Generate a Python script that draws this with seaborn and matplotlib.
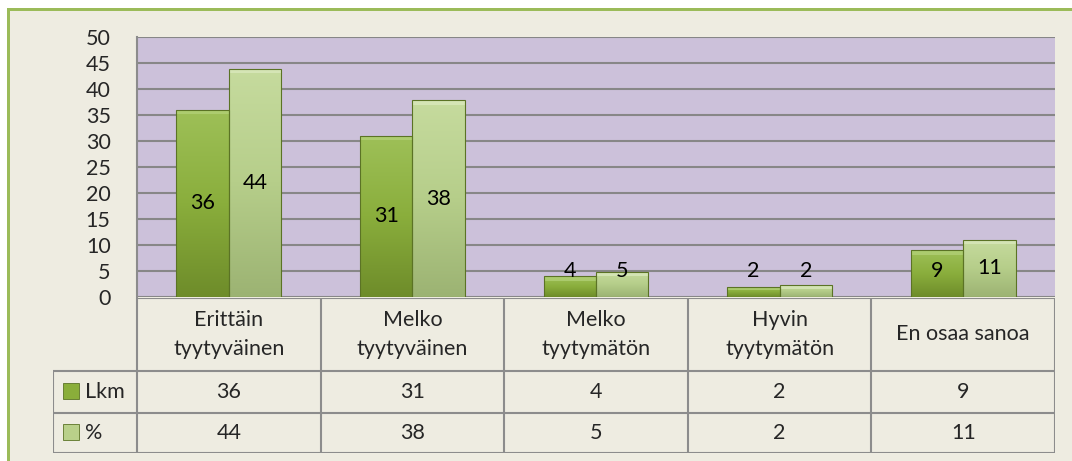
import matplotlib
matplotlib.use("Agg")
import matplotlib.pyplot as plt
from matplotlib.patches import Rectangle
from matplotlib.colors import LinearSegmentedColormap
import numpy as np
import pandas as pd
import seaborn as sns

# data
categories = ["Erittäin\ntyytyväinen", "Melko\ntyytyväinen", "Melko\ntyytymätön",
              "Hyvin\ntyytymätön", "En osaa sanoa"]
series = ["Lkm", "%"]
lkm = [36, 31, 4, 2, 9]
pct = [43.9, 37.8, 4.9, 2.4, 11.0]
yticks = [0, 5, 10, 15, 20, 25, 30, 35, 40, 45, 50]

df = pd.DataFrame({
    "category": categories * 2,
    "series": [series[0]] * len(lkm) + [series[1]] * len(pct),
    "value": lkm + pct,
})

sns.set_style("white")
plt.rcParams["font.family"] = ["Lato", "DejaVu Sans"]
FS = 15.5

W, H = 1072, 461
fig = plt.figure(figsize=(W / 100, H / 100), dpi=100)
fig.patch.set_facecolor("white")

def px(x0, y0, x1, y1):
    # pixel box -> figure fraction [left, bottom, width, height]
    return [x0 / W, 1 - y1 / H, (x1 - x0) / W, (y1 - y0) / H]

# chart area background + green frame
bg = px(7, 8, W, H)
fig.add_artist(Rectangle(bg[:2], bg[2], bg[3], transform=fig.transFigure,
                         facecolor="#EEECE1", edgecolor="none", zorder=0))
top = px(7, 8, W, 11)
fig.add_artist(Rectangle(top[:2], top[2], top[3], transform=fig.transFigure,
                         facecolor="#9BBB59", edgecolor="none", zorder=1))
left = px(7, 8, 10, H)
fig.add_artist(Rectangle(left[:2], left[2], left[3], transform=fig.transFigure,
                         facecolor="#9BBB59", edgecolor="none", zorder=1))

ax = fig.add_axes(px(137, 37, 1055, 297))
ax.set_facecolor("#CCC1DA")

colors = {"Lkm": "#8AAE3A", "%": "#B9D08A"}
sns.barplot(data=df, x="category", y="value", hue="series", order=categories,
            hue_order=series, palette=colors, width=0.57, gap=0, errorbar=None,
            legend=False, ax=ax, linewidth=0)

ramps = {
    "Lkm": LinearSegmentedColormap.from_list("lkm", ["#6E8C2A", "#8AAE3C", "#9EC058"]),
    "%": LinearSegmentedColormap.from_list("pct", ["#9CB373", "#B6CE8A", "#C6DB9E"]),
}
tops = {"Lkm": "#B4D27A", "%": "#DCEAC0"}
grad = np.linspace(0, 1, 128).reshape(-1, 1)
for name, cont in zip(series, ax.containers):
    for bar in cont:
        x0, y0 = bar.get_x(), bar.get_y()
        w, h = bar.get_width(), bar.get_height()
        im = ax.imshow(grad, extent=[x0, x0 + w, y0, y0 + h], origin="lower",
                       aspect="auto", cmap=ramps[name], zorder=3)
        im.set_clip_path(bar)
        # light bevel along the top of each bar
        bh = min(0.9, h * 0.35)
        ax.add_patch(Rectangle((x0, y0 + h - bh), w, bh, facecolor=tops[name],
                               edgecolor="none", alpha=0.7, zorder=3.5))
        ax.add_patch(Rectangle((x0, y0), w, h, fill=False, edgecolor="#5B7325",
                               linewidth=0.8, zorder=4))

for cont, vals in zip(ax.containers, [lkm, pct]):
    for bar, v in zip(cont, vals):
        ax.text(bar.get_x() + bar.get_width() / 2, max(v / 2, 5.0), f"{v:.0f}",
                ha="center", va="center", fontsize=FS, color="black", zorder=5)

ax.set_xlim(-0.5, len(categories) - 0.5)
ax.set_ylim(0, 50)
ax.set_yticks(yticks)
ax.set_yticklabels([str(t) for t in yticks], fontsize=FS)
ax.set_xticks([])
ax.set_xlabel("")
ax.set_ylabel("")
ax.set_axisbelow(True)
ax.yaxis.grid(True, color="#878787", linewidth=1.5)
ax.tick_params(axis="y", length=0, pad=19)
for s in ["top", "right", "bottom"]:
    ax.spines[s].set_visible(False)
ax.spines["left"].set_color("#8C8C8C")
ax.spines["left"].set_linewidth(1.5)

# data table under the plot
col_w = 918 / len(categories)
lab_w = (137 - 53) / col_w
tab = fig.add_axes(px(53, 298, 1055, 453))
tab.set_xlim(-0.5 - lab_w, len(categories) - 0.5)
tab.set_ylim(155, 0)
tab.axis("off")
tab.patch.set_alpha(0)

lc = dict(color="#8C8C8C", linewidth=1.5, solid_capstyle="butt")
xl, xr = -0.5 - lab_w, len(categories) - 0.5
tab.plot([-0.5, xr], [0, 0], **lc)
for yy in [73, 115, 155]:
    tab.plot([xl, xr], [yy, yy], **lc)
for i in range(len(categories) + 1):
    tab.plot([i - 0.5, i - 0.5], [0, 155], **lc)
tab.plot([xl, xl], [73, 155], **lc)

for i, c in enumerate(categories):
    tab.text(i, 36.5, c, ha="center", va="center", fontsize=FS, linespacing=1.6)
    tab.text(i, 94, str(lkm[i]), ha="center", va="center", fontsize=FS)
    tab.text(i, 135, f"{pct[i]:.0f}", ha="center", va="center", fontsize=FS)

key_x = -0.5 - 74 / col_w
key_w = 16 / col_w
for name, (y0, ytxt) in zip(series, [(85, 94), (126, 135)]):
    tab.add_patch(Rectangle((key_x, y0), key_w, 16, facecolor=colors[name],
                            edgecolor="#5B7325", linewidth=0.6))
    tab.text(key_x + key_w + 6 / col_w, ytxt, name, ha="left", va="center", fontsize=FS)

fig.savefig("out.png", dpi=100, facecolor=fig.get_facecolor())
